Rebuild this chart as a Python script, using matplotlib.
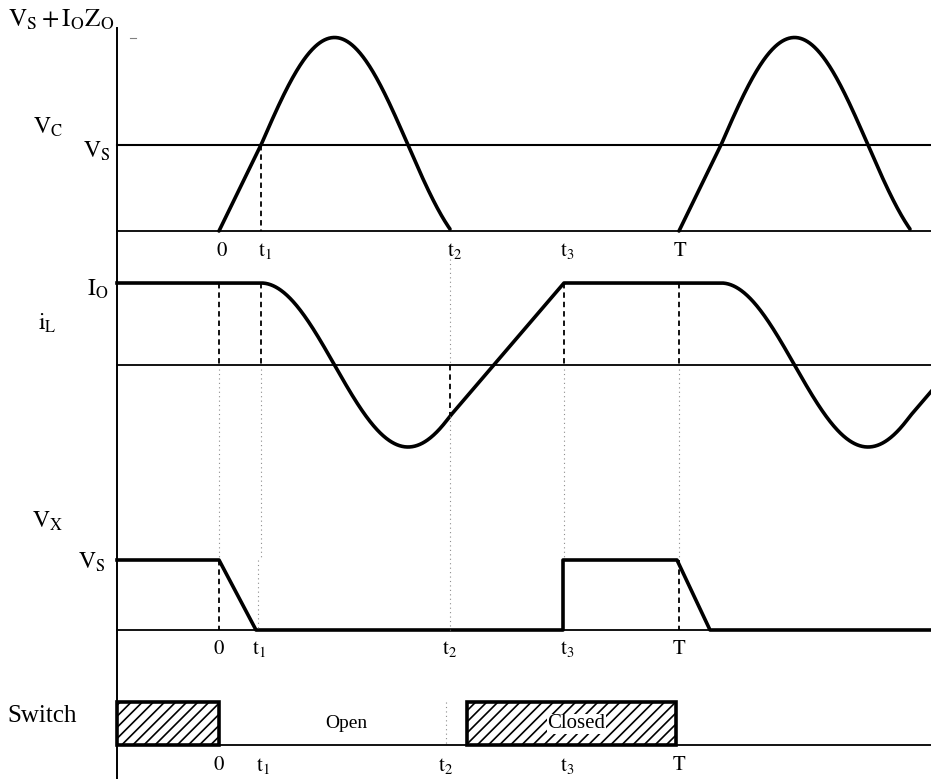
import numpy as np
import matplotlib.pyplot as plt
from matplotlib.patches import Rectangle

plt.rcParams['font.family'] = ['Liberation Serif', 'DejaVu Serif']
plt.rcParams['mathtext.fontset'] = 'stix'
plt.rcParams['hatch.linewidth'] = 1.2

# switching instants, time 0 = switch turn-off (arbitrary units)
tick_names = ['0', 't_1', 't_2', 't_3', 'T']
t_marks = [0, 42, 231, 345, 460]
t_start, t_end = -102, 712

# normalised levels (Vc, Vx in units of Vs, iL in units of Io)
vs = 1.0
io_zo = 1.25
io = 1.0
w = np.pi / 147  # resonant angular frequency

# switch node voltage corners (time, Vx/Vs)
vx_t = [-102, 0, 37, 344, 344, 458, 491, 712]
vx_v = [1, 1, 0, 0, 1, 1, 0, 0]

# intervals with the switch closed
closed = [(-102, 0), (248, 457)]

t0, t1, t2, t3, T = t_marks

# panel layout: zero line row and pixels per unit
X0 = 219
vc_base, vc_scale = 231, 86
il_base, il_scale = 365, 82
vx_base, vx_scale = 630, 70
sw_base, sw_h = 745, 43


def vc_cycle(t):
    t = np.asarray(t, dtype=float)
    v = np.where(t < t1, vs * t / t1, vs + io_zo * np.sin(w * (t - t1)))
    return np.clip(v, 0, None)


def il_cycle(t):
    t = np.asarray(t, dtype=float)
    i_t2 = io * np.cos(w * (t2 - t1))
    i = np.full_like(t, io)
    res = (t >= t1) & (t < t2)
    i[res] = io * np.cos(w * (t[res] - t1))
    ramp = (t >= t2) & (t < t3)
    i[ramp] = i_t2 + (io - i_t2) * (t[ramp] - t2) / (t3 - t2)
    return i


fig = plt.figure(figsize=(9.31, 7.79), dpi=100)
ax = fig.add_axes([0, 0, 1, 1])
ax.set_xlim(-X0, 931 - X0)
ax.set_ylim(779, 0)
ax.axis('off')

k = 'black'
lw_sig = 2.6
# vertical axis and zero lines
ax.plot([t_start, t_start], [28, 779], color=k, lw=1.4)
for base in (vc_base, il_base, vx_base, sw_base):
    ax.plot([t_start, t_end], [base, base], color=k, lw=1.3)
ax.plot([t_start, t_end], [vc_base - vc_scale * vs] * 2, color=k, lw=1.5)
ax.plot([t_start + 13, t_start + 19], [vc_base - vc_scale * (vs + io_zo)] * 2, color='0.5', lw=0.8)

# capacitor voltage, two cycles
for off in (0, T):
    tt = np.linspace(0, t2, 400)
    tt = tt[tt + off <= t_end]
    ax.plot(tt + off, vc_base - vc_scale * vc_cycle(tt), color=k, lw=lw_sig,
            solid_capstyle='round')

# inductor current
tt = np.linspace(t_start, t_end, 1600)
tt_rel = np.where(tt >= T + t1, tt - T, tt)
ax.plot(tt, il_base - il_scale * il_cycle(tt_rel), color=k, lw=lw_sig)

# switch node voltage
ax.plot(vx_t, vx_base - vx_scale * np.array(vx_v), color=k, lw=lw_sig)

# switch state bars
for a, b in closed:
    ax.add_patch(Rectangle((a, sw_base - sw_h), b - a, sw_h, facecolor='white',
                           edgecolor=k, lw=lw_sig, hatch='///'))

# guide lines between panels
dash = dict(color=k, lw=1.3, ls=(0, (3, 2.2)))
dot = dict(color='0.55', lw=0.8, ls=(0, (1, 3)))
io_row = il_base - il_scale * io
vs_row = vx_base - vx_scale * vs
il_t2 = il_base - il_scale * io * np.cos(w * (t2 - t1))
ax.plot([t1, t1], [vc_base - vc_scale * vs, vc_base], **dash)
for tm in (t0, t1, t3, T):
    ax.plot([tm, tm], [io_row, il_base], **dash)
    ax.plot([tm, tm], [il_base + 4, vs_row], **dot)
ax.plot([t2, t2], [vc_base + 28, il_base], **dot)
ax.plot([t2, t2], [il_base, il_t2], **dash)
ax.plot([t2, t2], [il_t2, vx_base], **dot)
ax.plot([t2 - 4, t2 - 4], [sw_base - sw_h, sw_base], **dot)
for tm in (t0, T):
    ax.plot([tm, tm], [vs_row, vx_base], **dash)
ax.plot([t1 - 3, t1 - 3], [vs_row, vx_base], **dot)

# time labels under each panel
fs_t = 15
rows = [(vc_base + 20, [3, 4, 5, 3, 1]), (vx_base + 19, [0, -2, 0, 3, 0]),
        (sw_base + 21, [0, 2, -4, 3, 0])]
for y, shifts in rows:
    for name, tm, dx in zip(tick_names, t_marks, shifts):
        ax.text(tm + dx, y, r'$\mathrm{%s}$' % name, fontsize=fs_t, ha='center', va='center')

# signal names on the left
fs = 17
ax.text(8 - X0, 20, r'$\mathrm{V_S + I_O Z_O}$', fontsize=18, ha='left', va='center')
ax.text(48 - X0, 127, r'$\mathrm{V_C}$', fontsize=fs, ha='center', va='center')
ax.text(97 - X0, 151, r'$\mathrm{V_S}$', fontsize=fs, ha='center', va='center')
ax.text(98 - X0, 289, r'$\mathrm{I_O}$', fontsize=fs, ha='center', va='center')
ax.text(47 - X0, 323, r'$\mathrm{i_L}$', fontsize=fs, ha='center', va='center')
ax.text(48 - X0, 521, r'$\mathrm{V_X}$', fontsize=fs, ha='center', va='center')
ax.text(92 - X0, 562, r'$\mathrm{V_S}$', fontsize=fs, ha='center', va='center')
ax.text(42 - X0, 716, 'Switch', fontsize=18, ha='center', va='center')
ax.text(346 - X0, 723, 'Open', fontsize=14, ha='center', va='center')
ax.text(sum(closed[1]) / 2 + 5, 724, 'Closed', fontsize=15, ha='center', va='center',
        bbox=dict(facecolor='white', edgecolor='none', pad=0.5))

fig.savefig('out.png', dpi=100)
